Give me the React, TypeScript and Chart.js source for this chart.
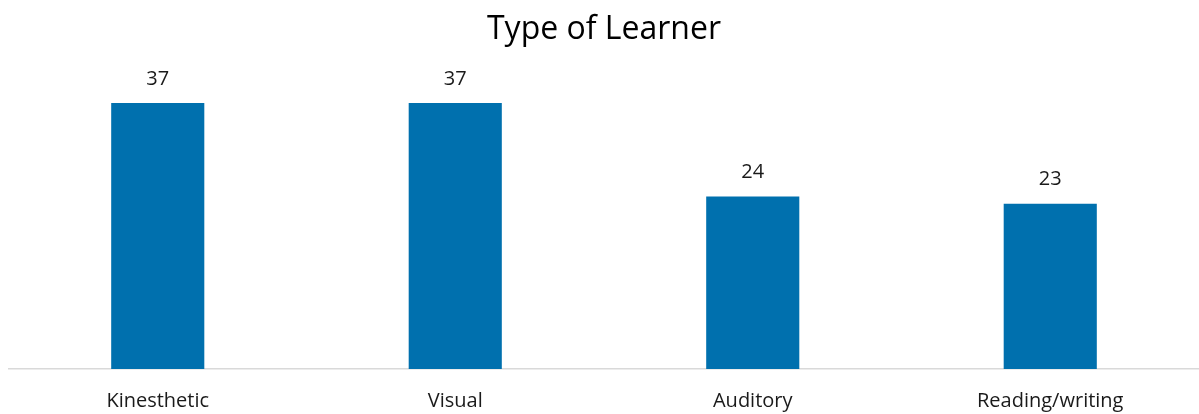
import React, { useEffect, useRef } from "react";
import { Chart, registerables } from "chart.js";

Chart.register(...registerables);

const categories = ["Kinesthetic", "Visual", "Auditory", "Reading/writing"];
const learnerCounts = [37, 37, 24, 23];
const chartTitle = "Type of Learner";

const FONT = "'Open Sans', Lato, sans-serif";

const valueLabels = {
  id: "valueLabels",
  afterDatasetsDraw(chart: any) {
    const { ctx } = chart;
    const meta = chart.getDatasetMeta(0);
    ctx.save();
    ctx.font = `20px ${FONT}`;
    ctx.fillStyle = "#1a1a1a";
    ctx.textAlign = "center";
    ctx.textBaseline = "middle";
    meta.data.forEach((bar: any, i: number) => {
      ctx.fillText(String(learnerCounts[i]), bar.x, bar.y - 24);
    });
    ctx.restore();
  },
};

export default function App() {
  const ref = useRef<HTMLCanvasElement | null>(null);
  useEffect(() => {
    document.body.style.margin = "0";
    const chart = new Chart(ref.current as HTMLCanvasElement, {
      type: "bar",
      data: {
        labels: categories,
        datasets: [
          {
            data: learnerCounts,
            backgroundColor: "#0070AE",
            barPercentage: 0.313,
            categoryPercentage: 1,
          },
        ],
      },
      options: {
        animation: false,
        responsive: false,
        layout: { padding: { left: 9, right: 0, top: 0, bottom: -19 } },
        plugins: {
          legend: { display: false },
          tooltip: { enabled: false },
          title: {
            display: true,
            text: chartTitle,
            color: "#000",
            font: { family: FONT, size: 32, weight: "normal" },
            padding: { top: 11, bottom: 32 },
          },
        },
        scales: {
          x: {
            grid: { display: false, drawTicks: false },
            border: { display: true, color: "#D9D9D9", width: 1.5 },
            ticks: {
              color: "#1a1a1a",
              font: { family: FONT, size: 20 },
              padding: 20,
              maxRotation: 0,
            },
          },
          y: { display: false, min: 0, max: 40 },
        },
      },
      plugins: [valueLabels],
    });
    return () => chart.destroy();
  }, []);
  return (
    <div style={{ position: "fixed", left: 0, top: 0, width: 1199, height: 414, background: "#fff" }}>
      <canvas ref={ref} width={1199} height={414} style={{ display: "block" }} />
    </div>
  );
}
